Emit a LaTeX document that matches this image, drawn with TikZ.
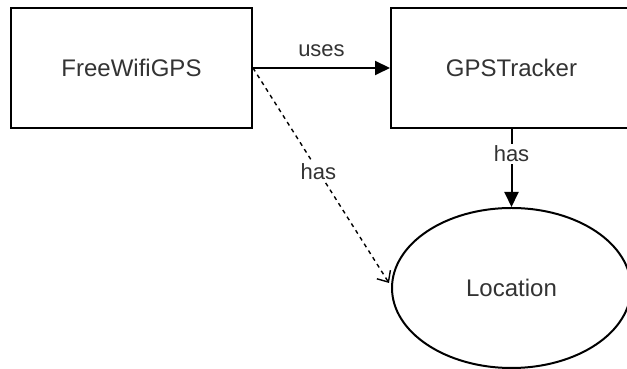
\documentclass[tikz,border=0pt]{standalone}
\usepackage{fontspec}
\setmainfont{Liberation Sans}
\usetikzlibrary{calc}
\usetikzlibrary{positioning}
\usetikzlibrary{shapes.geometric}
\usetikzlibrary{arrows.meta}
\tikzstyle{classnode} = [draw, rectangle, line width=1pt, minimum width=120.5pt, minimum height=60pt, text=black!80, font=\fontsize{12}{14}\selectfont]
\tikzstyle{valnode} = [draw, ellipse, line width=1pt, minimum width=119.5pt, minimum height=80pt, inner sep=0pt, text=black!80, font=\fontsize{12}{14}\selectfont]
\tikzstyle{edgelabel} = [text=black!80, font=\fontsize{11}{13}\selectfont, inner sep=1pt]
\tikzstyle{uses} = [line width=1pt, -{Triangle[length=7.5pt,width=7pt]}]
\tikzstyle{hasopt} = [line width=0.7pt, dash pattern=on 2pt off 2pt, -{Straight Barb[length=4.5pt,width=8pt]}]

\begin{document}
\begin{tikzpicture}[x=0.5pt, y=0.5pt]
    \useasboundingbox[fill=white] (0,0) rectangle (627,369);

    \node[classnode] (free_gps) at (131.5,301) {FreeWifiGPS};
    \node[classnode] (tracker) at ($(free_gps)+(380,0)$) {GPSTracker};
    \node[valnode] (location) at ($(tracker)+(0,-220)$) {Location};

    \draw[uses] (free_gps) -- node[edgelabel, above=4pt] (lbl_uses) {uses} (tracker);
    \draw[uses] (tracker) -- node[edgelabel, fill=white, pos=0.32] (lbl_has) {has} (location);
    \draw[hasopt] (free_gps.east) -- node[edgelabel, fill=white, pos=0.48] (lbl_hasopt) {has} ($(location.west)+(-2,5)$);
\end{tikzpicture}
\end{document}
